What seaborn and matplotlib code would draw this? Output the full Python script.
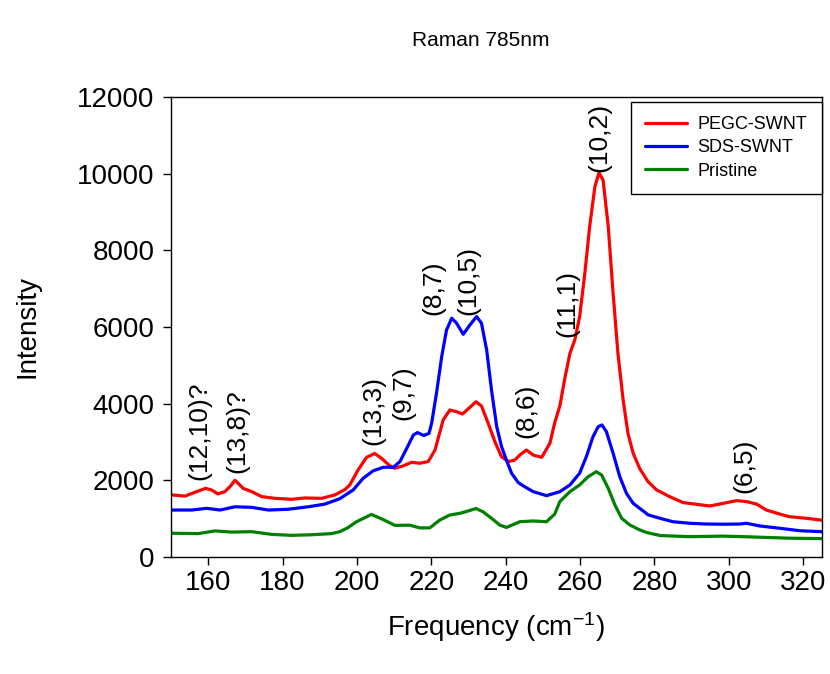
# %% load modules

import matplotlib

matplotlib.use("Agg")
import matplotlib.pyplot as plt
import numpy as np
import pandas as pd
import seaborn as sns

# %% data

pegc_x = [150, 153.8, 156.9, 159.3, 160.9, 162.6, 164.5, 166, 167.2, 168.3, 169.4,
          171.7, 174.4, 178, 182.4, 186, 190.5, 194.1, 196.8, 198.1, 200.3, 202.6,
          204.8, 206.6, 208.9, 210.2, 212.4, 214.7, 216.9, 219.2, 221, 222.3, 223.2,
          225, 226.8, 228.4, 230.4, 232, 233.5, 235.3, 237.1, 238.9, 240.7, 242.5,
          243.8, 245.6, 247.4, 249.7, 251.9, 253.2, 254.6, 255.9, 257.3, 258.6,
          259.9, 261.3, 262.6, 264, 265.1, 266.2, 267.6, 268.9, 270.2, 271.6, 272.9,
          274.3, 276.1, 278.3, 280.6, 284.1, 287.7, 291.3, 294.9, 298.5, 302.1,
          304.8, 307.5, 310.1, 313.7, 316.4, 320.9, 325]
pegc_y = [1620, 1590, 1705, 1790, 1750, 1645, 1705, 1850, 2000, 1900, 1790,
          1705, 1575, 1530, 1505, 1540, 1530, 1620, 1760, 1880, 2270, 2600,
          2700, 2575, 2375, 2315, 2375, 2470, 2445, 2490, 2790, 3250, 3575,
          3835, 3790, 3730, 3905, 4050, 3940, 3490, 3010, 2615, 2490, 2530,
          2660, 2790, 2660, 2600, 2965, 3500, 3950, 4650, 5315, 5660,
          6270, 7400, 8620, 9660, 10025, 9835, 8620, 6880, 5315, 4095, 3225,
          2705, 2300, 1965, 1750, 1575, 1420, 1375, 1330, 1400, 1470,
          1445, 1380, 1225, 1120, 1050, 1010, 960]

sds_x = [150, 155.6, 159.6, 163.2, 167.2, 171.7, 176.2, 181.5, 186.9, 191.4, 195.4,
         199, 201.7, 204.4, 207.1, 209.8, 211.6, 213.4, 215.2, 216.3, 218, 219.4,
         220.1, 221.4, 222.8, 224.1, 225.5, 226.8, 228.6, 230.4, 232.2, 233.5, 234.9,
         236.2, 237.6, 238.9, 240.2, 241.6, 243.4, 245, 247.4, 251, 254.6, 257.3,
         259.9, 261.7, 263.5, 264.9, 265.9, 267.1, 268.9, 270.7, 272.5, 274.3, 277,
         278.3, 281.5, 285, 289.5, 294, 298.5, 303, 304.8, 308.3, 313.7, 319.1, 325]
sds_y = [1225, 1225, 1270, 1225, 1310, 1295, 1225, 1245, 1310, 1380, 1520,
         1750, 2055, 2250, 2340, 2340, 2490, 2835, 3185, 3245, 3170, 3225,
         3490, 4270, 5225, 5920, 6230, 6100, 5810, 6055, 6270, 6100, 5400,
         4355, 3400, 2880, 2530, 2185, 1940, 1840, 1705, 1600, 1705, 1880,
         2185, 2615, 3140, 3400, 3445, 3270, 2705, 2095, 1660, 1400, 1200,
         1100, 1010, 920, 880, 860, 855, 860, 880, 810, 750, 685, 660]

pristine_x = [150, 157.3, 161.8, 166.3, 171.7, 177.1, 182.4, 187.8, 193.2, 195.4,
              197.5, 199.9, 203.9, 207.1, 210.2, 214.2, 216.9, 219.6, 222.3, 225,
              227.7, 229.9, 232, 233.9, 236.2, 238.4, 240.2, 243.8, 247.4, 251,
              253.2, 254.6, 257.3, 259.9, 262.2, 264.4, 265.8, 267.6, 269.4, 271.2,
              273.4, 276.1, 277.9, 281.5, 289.5, 298.5, 305.6, 316.4, 325]
pristine_y = [620, 610, 680, 650, 660, 590, 565, 580, 610, 660,
              760, 920, 1110, 975, 825, 830, 760, 760, 965, 1095,
              1140, 1200, 1265, 1180, 1010, 835, 770, 920, 940, 920,
              1120, 1450, 1705, 1880, 2095, 2225, 2140, 1790, 1355, 1010,
              835, 705, 640, 560, 530, 545, 525, 490, 480]

series_names = ["PEGC-SWNT", "SDS-SWNT", "Pristine"]
series_colors = ["#ff0000", "#0000ff", "#008000"]

# chirality labels: text, frequency, intensity at label base
peak_labels = ["(12,10)?", "(13,8)?", "(13,3)", "(9,7)", "(8,7)", "(10,5)",
               "(8,6)", "(11,1)", "(10,2)", "(6,5)"]
peak_x = [157.7, 167.9, 204.4, 212.5, 220.7, 230.1, 245.7, 256.5, 265.3, 304.2]
peak_y = [2000, 2190, 2920, 3575, 6310, 6310, 3110, 5740, 10045, 1670]

# %% long form frame

df1 = pd.concat(
    [
        pd.DataFrame({"freq": pegc_x, "intensity": pegc_y, "sample": series_names[0]}),
        pd.DataFrame({"freq": sds_x, "intensity": sds_y, "sample": series_names[1]}),
        pd.DataFrame({"freq": pristine_x, "intensity": pristine_y, "sample": series_names[2]}),
    ],
    ignore_index=True,
)

# %% plot

sns.set_style("ticks")
plt.rcParams["font.family"] = ["Liberation Sans", "DejaVu Sans"]
plt.rcParams["mathtext.fontset"] = "custom"
plt.rcParams["mathtext.rm"] = "Liberation Sans"
plt.rcParams["mathtext.it"] = "Liberation Sans:italic"
for key in ["text.color", "axes.labelcolor", "xtick.color", "ytick.color"]:
    plt.rcParams[key] = "black"

fig = plt.figure(figsize=(8.3, 6.74), dpi=100)
ax = fig.add_axes([0.206, 0.1736, 0.784, 0.6825])

sns.lineplot(
    data=df1,
    x="freq",
    y="intensity",
    hue="sample",
    hue_order=series_names,
    palette=dict(zip(series_names, series_colors)),
    estimator=None,
    linewidth=2.3,
    ax=ax,
)

for lab, px, py in zip(peak_labels, peak_x, peak_y):
    ax.text(px, py, lab, rotation=90, ha="center", va="bottom", fontsize=19)

ax.set_xlim(150, 325)
ax.set_ylim(0, 12000)
ax.set_xticks(np.arange(160, 321, 20))
ax.set_yticks(np.arange(0, 12001, 2000))
ax.tick_params(direction="out", length=6, width=1, labelsize=20, color="black")
ax.tick_params(axis="y", pad=6)
for sp in ax.spines.values():
    sp.set_color("black")
    sp.set_linewidth(1)

ax.set_xlabel("Frequency (cm$^{-1}$)", fontsize=20, labelpad=10)
ax.set_ylabel("Intensity", fontsize=20, labelpad=26)
fig.text(481 / 830, 1 - 40 / 674, "Raman 785nm", ha="center", va="center", fontsize=15)

leg = ax.legend(
    loc="upper right",
    bbox_to_anchor=(1.0, 0.99),
    fontsize=13,
    frameon=True,
    fancybox=False,
    edgecolor="black",
    framealpha=1,
    handlelength=2.3,
    handletextpad=0.6,
    labelspacing=0.35,
    borderpad=0.8,
    borderaxespad=0,
    title=None,
)
leg.get_frame().set_linewidth(1)

fig.savefig("out.png", dpi=100, facecolor="w")
